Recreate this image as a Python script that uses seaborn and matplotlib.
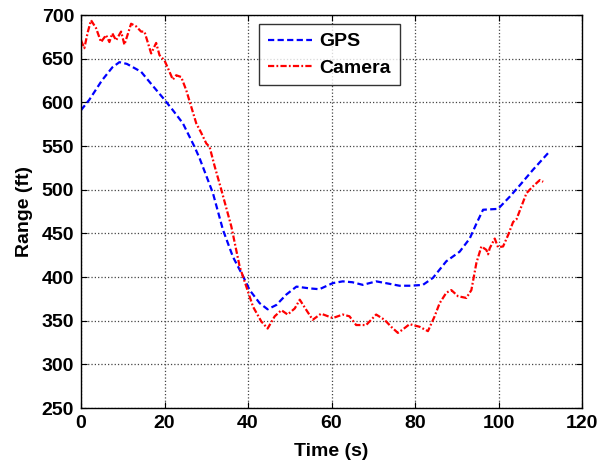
import numpy as np
import pandas as pd
import matplotlib
matplotlib.use("Agg")
import matplotlib.pyplot as plt
import seaborn as sns

gps_t = [0, 2, 5, 7.5, 9.2, 11, 14.4, 17, 20, 22, 24.4, 27.2, 28.4, 31.6, 34, 36.4, 38.8,
         40.4, 42.8, 44.7, 46.8, 49.2, 51.6, 54.7, 57.1, 60.3, 62.7, 65, 67.5, 70.7, 73,
         76.3, 79, 81.9, 84.3, 87.5, 90.7, 93.1, 94.7, 96.3, 99.9, 102.7, 105.1, 108.3, 111.9]
gps_r = [591, 603, 625, 640, 646, 644, 635, 620, 603, 591, 576, 549, 536, 496, 454, 423, 401,
         385, 370, 363, 368, 380, 389, 387, 386, 393, 395, 394, 391, 395, 393,
         390, 390, 391, 399, 418, 429, 444, 461, 477, 478, 492, 505, 523, 542]

cam_t = [0, 0.8, 1.6, 2.4, 3.6, 4.8, 6, 6.8, 7.5, 8.4, 9.6, 10.4, 12, 13.2, 14.4, 15.2, 16.8,
         18, 18.8, 20, 21.2, 22, 22.8, 24, 25.2, 26.4, 27.6, 28.8, 30, 30.8, 32, 33.6, 36,
         38, 39.6, 41.2, 43.2, 44.7, 46.4, 48, 49.5, 51.2, 52.4, 54, 55.5, 57.5, 60.3, 62.7,
         64.3, 65.9, 68.3, 70.7, 72.7, 74.3, 75.9, 77.1, 78.7, 81.1, 83.1, 84.7, 85.9, 87.5,
         88.7, 90.3, 92.3, 93.5, 94.7, 95.9, 97.1, 97.5, 97.9, 99.1, 99.9, 101.1, 102.3,
         103.5, 104.3, 105.5, 106.7, 108.3, 109.9, 110.7]
cam_r = [671, 662, 680, 694, 685, 669, 677, 669, 679, 671, 681, 666, 690, 687, 681, 681, 656,
         668, 654, 648, 635, 626, 631, 629, 614, 595, 576, 565, 553, 549, 527, 500, 458,
         412, 389, 366, 349, 341, 355, 362, 357, 364, 374, 362, 351, 358, 353, 357,
         355, 345, 345, 357, 351, 343, 336, 340, 346, 343, 338, 355, 370, 382,
         385, 378, 376, 385, 416, 435, 431, 426, 433, 444, 434, 435, 448,
         463, 466, 481, 496, 504, 511, 509]

df = pd.concat([
    pd.DataFrame({"Time": gps_t, "Range": gps_r, "Source": "GPS"}),
    pd.DataFrame({"Time": cam_t, "Range": cam_r, "Source": "Camera"}),
])

sns.set_theme(style="white")
plt.rcParams['font.family'] = ['Liberation Sans', 'DejaVu Sans']
plt.rcParams['font.weight'] = 'bold'
for k in ['text.color', 'axes.labelcolor', 'xtick.color', 'ytick.color']:
    plt.rcParams[k] = 'black'

fig = plt.figure(figsize=(6.1, 4.61), dpi=100)
ax = fig.add_axes([81 / 610, 1 - 408 / 461, (582 - 81) / 610, (408 - 15) / 461])

sns.lineplot(data=df, x="Time", y="Range", hue="Source", style="Source",
             palette={"GPS": "#0000ff", "Camera": "#ff0000"},
             dashes={"GPS": (2.8, 1.5), "Camera": (2.8, 1.0, 0.8, 1.0)},
             linewidth=1.6, ax=ax, sort=False, estimator=None)

ax.set_xlim(0, 120)
ax.set_ylim(250, 700)
ax.set_xticks(np.arange(0, 121, 20))
ax.set_yticks(np.arange(250, 701, 50))
ax.grid(True, color="#444444", linestyle=":", linewidth=0.9)
ax.tick_params(direction="in", length=4, labelsize=14, colors="black", width=0.8, pad=5,
               top=True, right=True, bottom=True, left=True)
for lbl in ax.get_xticklabels() + ax.get_yticklabels():
    lbl.set_fontweight("bold")
for s in ax.spines.values():
    s.set_color("black")
    s.set_linewidth(1.0)
ax.set_xlabel("Time (s)", fontsize=14, fontweight="bold", labelpad=8)
ax.set_ylabel("Range (ft)", fontsize=14, fontweight="bold", labelpad=6)

leg = ax.legend(loc="upper left", bbox_to_anchor=((259 - 81) / 501, 1 - (24 - 15) / 393),
                borderaxespad=0, fontsize=14, frameon=True, fancybox=False,
                edgecolor="black", handlelength=2.3, handletextpad=0.35,
                borderpad=0.45, labelspacing=0.45)
leg.get_frame().set_linewidth(1.0)
for t in leg.get_texts():
    t.set_fontweight("bold")

fig.savefig("out.png", dpi=100)
